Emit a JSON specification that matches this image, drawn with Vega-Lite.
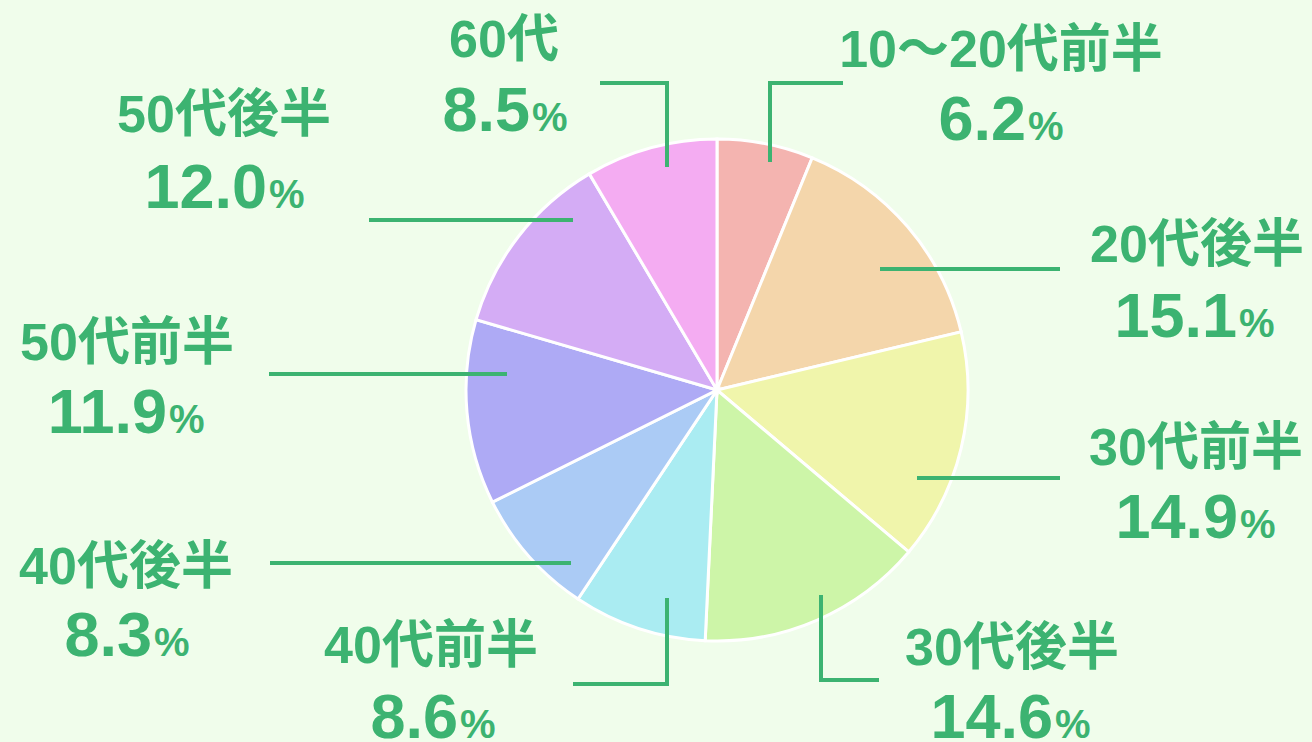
{
  "$schema": "https://vega.github.io/schema/vega-lite/v6.json",
  "width": 1312,
  "height": 742,
  "autosize": {"type": "none"},
  "padding": 0,
  "background": "#f0fdeb",
  "view": {"stroke": null},
  "config": {"text": {"font": "Liberation Sans, Noto Sans CJK JP", "fontWeight": "bold", "fill": "#3cb371"}},
  "datasets": {
    "slices": [
      {"cat": "10～20代前半", "value": 6.2, "o": 1, "nx": 284, "ny": 323, "vx": 309, "vy": 250},
      {"cat": "20代後半", "value": 15.1, "o": 2, "nx": 480, "ny": 128, "vx": 520, "vy": 53},
      {"cat": "30代前半", "value": 14.9, "o": 3, "nx": 479, "ny": -75, "vx": 521, "vy": -148},
      {"cat": "30代後半", "value": 14.6, "o": 4, "nx": 295, "ny": -275, "vx": 336, "vy": -348},
      {"cat": "40代前半", "value": 8.6, "o": 5, "nx": -286, "ny": -273, "vx": -259, "vy": -348},
      {"cat": "40代後半", "value": 8.3, "o": 6, "nx": -591, "ny": -194, "vx": -565, "vy": -266},
      {"cat": "50代前半", "value": 11.9, "o": 7, "nx": -590, "ny": 30, "vx": -550, "vy": -43},
      {"cat": "50代後半", "value": 12.0, "o": 8, "nx": -493, "ny": 258, "vx": -450, "vy": 182},
      {"cat": "60代", "value": 8.5, "o": 9, "nx": -213, "ny": 333, "vx": -187, "vy": 259}
    ],
    "leaders": [
      {"seg": 1, "p": 1, "x": 53, "y": 228}, {"seg": 1, "p": 2, "x": 53, "y": 307}, {"seg": 1, "p": 3, "x": 126, "y": 307},
      {"seg": 2, "p": 1, "x": 163, "y": 121}, {"seg": 2, "p": 2, "x": 343, "y": 121},
      {"seg": 3, "p": 1, "x": 200, "y": -88}, {"seg": 3, "p": 2, "x": 343, "y": -88},
      {"seg": 4, "p": 1, "x": 104, "y": -205}, {"seg": 4, "p": 2, "x": 104, "y": -290}, {"seg": 4, "p": 3, "x": 162, "y": -290},
      {"seg": 5, "p": 1, "x": -50, "y": -208}, {"seg": 5, "p": 2, "x": -50, "y": -294}, {"seg": 5, "p": 3, "x": -144, "y": -294},
      {"seg": 6, "p": 1, "x": -146, "y": -173}, {"seg": 6, "p": 2, "x": -447, "y": -173},
      {"seg": 7, "p": 1, "x": -210, "y": 16}, {"seg": 7, "p": 2, "x": -448, "y": 16},
      {"seg": 8, "p": 1, "x": -144, "y": 170}, {"seg": 8, "p": 2, "x": -348, "y": 170},
      {"seg": 9, "p": 1, "x": -50, "y": 223}, {"seg": 9, "p": 2, "x": -50, "y": 307}, {"seg": 9, "p": 3, "x": -117, "y": 307}
    ]
  },
  "layer": [
    {
      "data": {"name": "slices"},
      "mark": {"type": "arc", "outerRadius": 251, "stroke": "white", "strokeWidth": 3},
      "encoding": {
        "x": {"datum": 0, "type": "quantitative", "scale": {"domain": [-717, 595], "nice": false, "zero": false}, "axis": null},
        "y": {"datum": 0, "type": "quantitative", "scale": {"domain": [-352, 390], "nice": false, "zero": false}, "axis": null},
        "theta": {"field": "value", "type": "quantitative", "stack": true},
        "order": {"field": "o", "type": "quantitative"},
        "color": {
          "field": "cat", "type": "nominal", "legend": null,
          "scale": {
            "domain": ["10～20代前半", "20代後半", "30代前半", "30代後半", "40代前半", "40代後半", "50代前半", "50代後半", "60代"],
            "range": ["#f4b4b0", "#f4d6ab", "#f0f5ab", "#cdf5a8", "#aaecf2", "#abcbf5", "#aeaaf5", "#d4acf5", "#f4acf2"]
          }
        }
      }
    },
    {
      "data": {"name": "leaders"},
      "mark": {"type": "line", "stroke": "#3cb371", "strokeWidth": 4, "strokeJoin": "miter", "strokeCap": "butt"},
      "encoding": {
        "x": {"field": "x", "type": "quantitative", "axis": null},
        "y": {"field": "y", "type": "quantitative", "axis": null},
        "detail": {"field": "seg", "type": "nominal"},
        "order": {"field": "p", "type": "quantitative"}
      }
    },
    {
      "data": {"name": "slices"},
      "mark": {"type": "text", "fontSize": 52, "align": "center", "baseline": "alphabetic"},
      "encoding": {
        "x": {"field": "nx", "type": "quantitative", "axis": null},
        "y": {"field": "ny", "type": "quantitative", "axis": null},
        "text": {"field": "cat", "type": "nominal"}
      }
    },
    {
      "data": {"name": "slices"},
      "mark": {"type": "text", "fontSize": 63, "align": "right", "baseline": "alphabetic"},
      "encoding": {
        "x": {"field": "vx", "type": "quantitative", "axis": null},
        "y": {"field": "vy", "type": "quantitative", "axis": null},
        "text": {"field": "value", "type": "quantitative", "format": ".1f"}
      }
    },
    {
      "data": {"name": "slices"},
      "mark": {"type": "text", "fontSize": 40, "align": "left", "baseline": "alphabetic", "dx": 2, "text": "%"},
      "encoding": {
        "x": {"field": "vx", "type": "quantitative", "axis": null},
        "y": {"field": "vy", "type": "quantitative", "axis": null}
      }
    }
  ]
}
